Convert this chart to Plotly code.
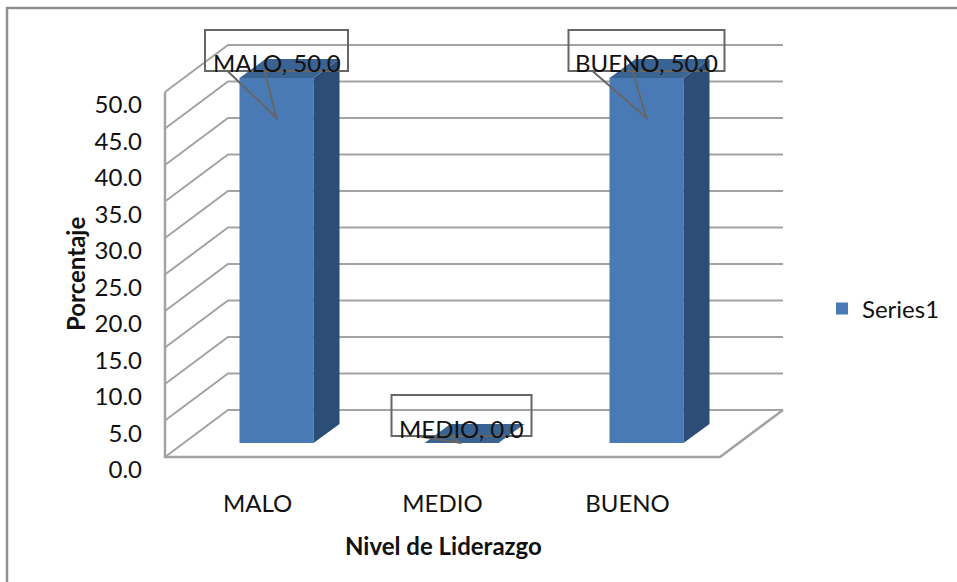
import plotly.graph_objects as go

categorias = ['MALO', 'MEDIO', 'BUENO']
valores = [50.0, 0.0, 50.0]
y_ticks = [0, 5, 10, 15, 20, 25, 30, 35, 40, 45, 50]
y_labels = ['0.0', '5.0', '10.0', '15.0', '20.0', '25.0', '30.0', '35.0', '40.0', '45.0', '50.0']

W, H = 957, 582
PX_CAT = 185.0   # pixels per category
PX_VAL = 7.3     # pixels per percent
X0, Y0 = 165, 457  # where the front floor corner sits
GRIS = '#a3a3a3'
GRIS_OSC = '#666666'
FUENTE = 'Lato'
TAM = 24


def dx(px):
    return px / PX_CAT


def dy(px):
    return px / PX_VAL


def xp(px):
    return px / W


def yp(px):
    return 1 - px / H


def path(puntos, cerrar=False):
    s = 'M ' + ' L '.join(f'{a},{b}' for a, b in puntos)
    return s + ' Z' if cerrar else s


# 3d depth of the walls and of the bars
FONDO_X, FONDO_Y = dx(63), dy(47)
BARRA_X, BARRA_Y = dx(19), dy(14)
LADO_X, LADO_Y = dx(26), dy(19)
ANCHO = 0.4

centros = [i + 0.5 + BARRA_X for i in range(len(categorias))]
medio_box = [71.5, 70, 78]
cola = [(-49, -12), (-45, -12), (-54, -14)]

shapes = []
# frame around the picture, open on the bottom and the right
shapes.append(dict(type='path', xref='paper', yref='paper', layer='below',
                   path=path([(xp(7), yp(582)), (xp(7), yp(8)), (xp(957), yp(8))]),
                   line=dict(color='#8f8f8f', width=2.5)))
# walls
for t in y_ticks:
    shapes.append(dict(type='path', xref='x', yref='y', layer='below',
                       path=path([(0, t), (FONDO_X, t + FONDO_Y), (3 + FONDO_X, t + FONDO_Y)]),
                       line=dict(color=GRIS, width=2)))
shapes.append(dict(type='path', xref='x', yref='y', layer='below',
                   path=path([(0, y_ticks[-1]), (0, 0), (3, 0), (3 + FONDO_X, FONDO_Y)]),
                   line=dict(color=GRIS, width=2.5)))

fig = go.Figure()
fig.add_trace(go.Bar(x=centros, y=valores, base=[BARRA_Y] * 3, width=ANCHO, name='Series1',
                     marker=dict(color='#4a7ab5', line=dict(width=0)), showlegend=True))

anotaciones = []
for c, v, nombre, mb, (c1, c2) in zip(centros, valores, categorias, medio_box, cola):
    izq, der = c - ANCHO / 2, c + ANCHO / 2
    tope = BARRA_Y + v
    # side and top faces of the bar
    fig.add_trace(go.Scatter(x=[der, der + LADO_X, der + LADO_X, der, der],
                             y=[BARRA_Y, BARRA_Y + LADO_Y, tope + LADO_Y, tope, BARRA_Y],
                             fill='toself', fillcolor='#2c4d75', mode='none', showlegend=False))
    fig.add_trace(go.Scatter(x=[izq, izq + LADO_X, der + LADO_X, der, izq],
                             y=[tope, tope + LADO_Y, tope + LADO_Y, tope, tope],
                             fill='toself', fillcolor='#3a6391', mode='none', showlegend=False))
    # data label callout
    sup, inf = tope + dy(48), tope + dy(7)
    punta = BARRA_Y + max(0, v - dy(40))
    shapes.append(dict(type='path', xref='x', yref='y', layer='above',
                       path=path([(c - dx(mb), inf), (c - dx(mb), sup), (c + dx(mb), sup), (c + dx(mb), inf)], True),
                       line=dict(color=GRIS_OSC, width=2)))
    shapes.append(dict(type='path', xref='x', yref='y', layer='above',
                       path=path([(c + dx(c1), inf), (c, punta), (c + dx(c2), inf)]),
                       line=dict(color=GRIS_OSC, width=2)))
    anotaciones.append(dict(x=c, y=tope + dy(15), xref='x', yref='y', showarrow=False,
                            text=f'{nombre}, {v:.1f}', font=dict(family=FUENTE, size=TAM, color='#111111')))

# axis titles sit off centre in the original, so they go in by position
anotaciones.append(dict(x=xp(443), y=yp(545), xref='paper', yref='paper', showarrow=False,
                        xanchor='center', yanchor='middle',
                        text='<b>Nivel de Liderazgo</b>', font=dict(family=FUENTE, size=TAM, color='#111111')))
anotaciones.append(dict(x=xp(75), y=yp(274), xref='paper', yref='paper', showarrow=False, textangle=-90,
                        xanchor='center', yanchor='middle',
                        text='<b>Porcentaje</b>', font=dict(family=FUENTE, size=TAM, color='#111111')))

fig.update_layout(
    width=W,
    height=H,
    margin=dict(l=0, r=0, t=0, b=0, autoexpand=False),
    paper_bgcolor='white',
    plot_bgcolor='rgba(0,0,0,0)',
    font=dict(family=FUENTE, size=TAM, color='#111111'),
    shapes=shapes,
    annotations=anotaciones,
    showlegend=True,
    legend=dict(x=xp(822), y=yp(309), xanchor='left', yanchor='middle', bgcolor='rgba(0,0,0,0)',
                font=dict(family=FUENTE, size=TAM)),
    xaxis=dict(domain=[xp(160), xp(800)], range=[dx(160 - X0), dx(800 - X0)],
               tickmode='array', tickvals=[0.5, 1.5, 2.5], ticktext=categorias,
               showgrid=False, zeroline=False, showline=False, ticks='',
               ticklabelstandoff=25),
    yaxis=dict(domain=[yp(462), yp(20)], range=[dy(Y0 - 462), dy(Y0 - 20)],
               tickmode='array', tickvals=y_ticks, ticktext=y_labels,
               showgrid=False, zeroline=False, showline=False, ticks='',
               ticklabelstandoff=17, ticklabelshift=13),
)

fig.write_html("out.html", config={'displayModeBar': False},
               post_script="document.body.style.margin='0';")
